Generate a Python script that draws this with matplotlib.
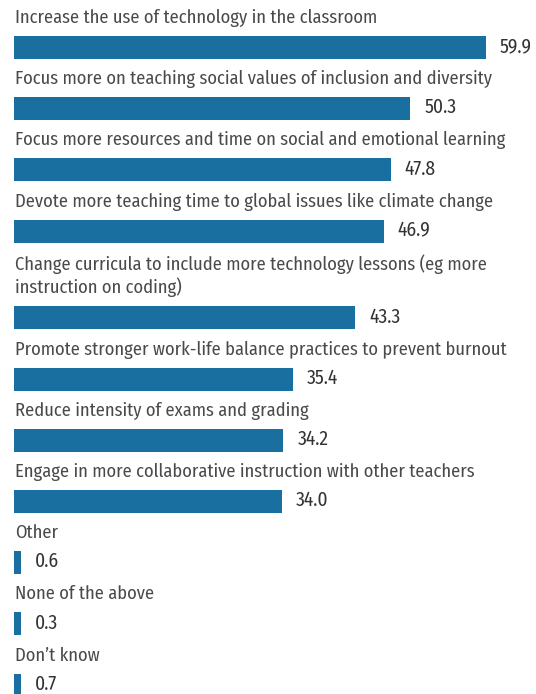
import matplotlib
matplotlib.use("Agg")
import matplotlib.pyplot as plt
import numpy as np

categories = [
    "Increase the use of technology in the classroom",
    "Focus more on teaching social values of inclusion and diversity",
    "Focus more resources and time on social and emotional learning",
    "Devote more teaching time to global issues like climate change",
    "Change curricula to include more technology lessons (eg more\ninstruction on coding)",
    "Promote stronger work-life balance practices to prevent burnout",
    "Reduce intensity of exams and grading",
    "Engage in more collaborative instruction with other teachers",
    "Other",
    "None of the above",
    "Don\u2019t know",
]
values = [59.9, 50.3, 47.8, 46.9, 43.3, 35.4, 34.2, 34.0, 0.6, 0.3, 0.7]

W, H = 536, 694
fig = plt.figure(figsize=(W / 100, H / 100), dpi=100)
ax = fig.add_axes([0, 0, 1, 1])
ax.axis("off")

px_per_unit = 7.88
x0_px = 14
ax.set_xlim(-x0_px / px_per_unit, (W - x0_px) / px_per_unit)
ax.set_ylim(H, 0)

bar_color = "#1a6fa1"
font = ["Fira Sans Condensed", "Roboto Condensed", "Lato", "DejaVu Sans"]
min_vis = 0.9  # minimum visible bar length for tiny values

y = 47.5
step = 61.2
extra_line = 25.5
centers = []
for i, lab in enumerate(categories):
    if i > 0:
        y += step
    nlines = lab.count("\n") + 1
    y += extra_line * (nlines - 1)
    centers.append(y)

disp = np.maximum(values, min_vis)
ax.barh(centers, disp, height=23, left=0, color=bar_color, linewidth=0)

for c, lab, v, d in zip(centers, categories, values, disp):
    ax.text(0.15, c - 24.5, lab, ha="left", va="baseline", fontsize=13.3,
            family=font, color="#4a4a4a", linespacing=1.22)
    ax.annotate(f"{v:.1f}", (d, c), xytext=(14, 1), textcoords="offset pixels",
                ha="left", va="center", fontsize=14, family=font,
                color="#333333")

fig.savefig("out.png", dpi=100)
